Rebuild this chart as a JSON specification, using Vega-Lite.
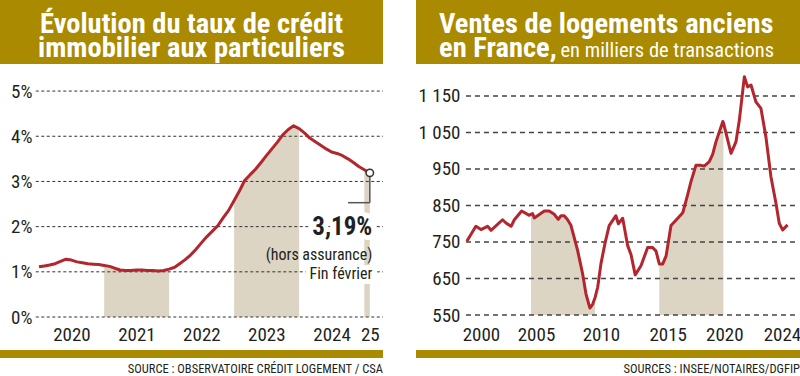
{
  "$schema": "https://vega.github.io/schema/vega-lite/v6.json",
  "padding": 0,
  "background": "white",
  "spacing": 9,
  "config": {
    "view": {"stroke": null},
    "font": "'Roboto Condensed', 'Liberation Sans', sans-serif",
    "axis": {"labelFont": "'Roboto Condensed', 'Liberation Sans', sans-serif", "labelColor": "#231F20", "labelFontSize": 19, "grid": false, "domain": false, "ticks": false, "tickSize": 0, "labelFlush": false, "labelOverlap": false},
    "title": {"font": "'Roboto Condensed', 'Liberation Sans', sans-serif", "fontWeight": "normal", "fontSize": 12.5, "color": "#231F20"},
    "text": {"font": "'Roboto Condensed', 'Liberation Sans', sans-serif"}
  },
  "datasets": {
    "credit": [
      {"d": "2020-01-01", "v": 1.11}, {"d": "2020-02-01", "v": 1.13}, {"d": "2020-03-01", "v": 1.15}, {"d": "2020-04-01", "v": 1.18},
      {"d": "2020-05-01", "v": 1.23}, {"d": "2020-06-01", "v": 1.28}, {"d": "2020-07-01", "v": 1.26}, {"d": "2020-08-01", "v": 1.22},
      {"d": "2020-09-01", "v": 1.20}, {"d": "2020-10-01", "v": 1.18}, {"d": "2020-11-01", "v": 1.17}, {"d": "2020-12-01", "v": 1.16},
      {"d": "2021-01-01", "v": 1.14, "p": "a"}, {"d": "2021-02-01", "v": 1.12, "p": "a"}, {"d": "2021-03-01", "v": 1.08, "p": "a"}, {"d": "2021-04-01", "v": 1.04, "p": "a"},
      {"d": "2021-05-01", "v": 1.03, "p": "a"}, {"d": "2021-06-01", "v": 1.03, "p": "a"}, {"d": "2021-07-01", "v": 1.04, "p": "a"}, {"d": "2021-08-01", "v": 1.04, "p": "a"},
      {"d": "2021-09-01", "v": 1.03, "p": "a"}, {"d": "2021-10-01", "v": 1.03, "p": "a"}, {"d": "2021-11-01", "v": 1.02, "p": "a"}, {"d": "2021-12-01", "v": 1.03, "p": "a"},
      {"d": "2022-01-01", "v": 1.06, "p": "a"}, {"d": "2022-02-01", "v": 1.10}, {"d": "2022-03-01", "v": 1.18}, {"d": "2022-04-01", "v": 1.27},
      {"d": "2022-05-01", "v": 1.37}, {"d": "2022-06-01", "v": 1.50}, {"d": "2022-07-01", "v": 1.64}, {"d": "2022-08-01", "v": 1.78},
      {"d": "2022-09-01", "v": 1.90}, {"d": "2022-10-01", "v": 2.02}, {"d": "2022-11-01", "v": 2.20}, {"d": "2022-12-01", "v": 2.36},
      {"d": "2023-01-01", "v": 2.58, "p": "b"}, {"d": "2023-02-01", "v": 2.80, "p": "b"}, {"d": "2023-03-01", "v": 3.02, "p": "b"}, {"d": "2023-04-01", "v": 3.15, "p": "b"},
      {"d": "2023-05-01", "v": 3.27, "p": "b"}, {"d": "2023-06-01", "v": 3.42, "p": "b"}, {"d": "2023-07-01", "v": 3.57, "p": "b"}, {"d": "2023-08-01", "v": 3.72, "p": "b"},
      {"d": "2023-09-01", "v": 3.87, "p": "b"}, {"d": "2023-10-01", "v": 4.03, "p": "b"}, {"d": "2023-11-01", "v": 4.15, "p": "b"}, {"d": "2023-12-01", "v": 4.23, "p": "b"},
      {"d": "2024-01-01", "v": 4.17, "p": "b"}, {"d": "2024-02-01", "v": 4.07}, {"d": "2024-03-01", "v": 3.96}, {"d": "2024-04-01", "v": 3.88},
      {"d": "2024-05-01", "v": 3.80}, {"d": "2024-06-01", "v": 3.72}, {"d": "2024-07-01", "v": 3.65}, {"d": "2024-08-01", "v": 3.62},
      {"d": "2024-09-01", "v": 3.57}, {"d": "2024-10-01", "v": 3.50}, {"d": "2024-11-01", "v": 3.42}, {"d": "2024-12-01", "v": 3.33},
      {"d": "2025-01-01", "v": 3.26, "p": "c"}, {"d": "2025-02-01", "v": 3.19, "p": "c"}
    ],
    "ventes": [
      {"d": "2000-01-01", "v": 752}, {"d": "2000-09-15", "v": 793}, {"d": "2001-02-08", "v": 784}, {"d": "2001-08-15", "v": 793},
      {"d": "2001-11-20", "v": 782}, {"d": "2002-10-15", "v": 811}, {"d": "2003-01-20", "v": 802}, {"d": "2003-06-15", "v": 793},
      {"d": "2003-09-15", "v": 811}, {"d": "2004-04-10", "v": 835}, {"d": "2004-11-15", "v": 823},
      {"d": "2005-01-01", "v": 826, "p": "a"}, {"d": "2005-02-15", "v": 828, "p": "a"}, {"d": "2005-04-05", "v": 816, "p": "a"},
      {"d": "2006-01-15", "v": 835, "p": "a"}, {"d": "2006-06-05", "v": 835, "p": "a"}, {"d": "2006-10-25", "v": 826, "p": "a"},
      {"d": "2007-02-15", "v": 812, "p": "a"}, {"d": "2007-05-05", "v": 822, "p": "a"}, {"d": "2007-08-05", "v": 822, "p": "a"},
      {"d": "2007-11-10", "v": 811, "p": "a"}, {"d": "2008-02-15", "v": 795, "p": "a"}, {"d": "2008-08-20", "v": 727, "p": "a"},
      {"d": "2009-01-10", "v": 663, "p": "a"}, {"d": "2009-04-15", "v": 608, "p": "a"}, {"d": "2009-08-05", "v": 569, "p": "a"},
      {"d": "2009-10-25", "v": 580, "p": "a"}, {"d": "2010-01-01", "v": 598, "p": "a"},
      {"d": "2010-03-15", "v": 626}, {"d": "2010-06-15", "v": 690}, {"d": "2010-10-10", "v": 747}, {"d": "2011-02-05", "v": 795},
      {"d": "2011-08-15", "v": 822}, {"d": "2011-10-25", "v": 800}, {"d": "2012-02-25", "v": 815}, {"d": "2012-07-15", "v": 740},
      {"d": "2012-10-20", "v": 715}, {"d": "2013-02-15", "v": 660}, {"d": "2013-07-30", "v": 685}, {"d": "2014-02-05", "v": 735},
      {"d": "2014-06-25", "v": 735}, {"d": "2014-10-01", "v": 725},
      {"d": "2015-01-01", "v": 690, "p": "b"}, {"d": "2015-04-10", "v": 690, "p": "b"}, {"d": "2015-07-15", "v": 712, "p": "b"},
      {"d": "2015-12-01", "v": 795, "p": "b"}, {"d": "2016-06-10", "v": 815, "p": "b"}, {"d": "2016-10-30", "v": 830, "p": "b"},
      {"d": "2017-03-20", "v": 880, "p": "b"}, {"d": "2017-06-20", "v": 915, "p": "b"}, {"d": "2017-11-10", "v": 960, "p": "b"},
      {"d": "2018-04-01", "v": 960, "p": "b"}, {"d": "2018-07-05", "v": 958, "p": "b"}, {"d": "2018-11-25", "v": 970, "p": "b"},
      {"d": "2019-03-01", "v": 990, "p": "b"}, {"d": "2019-06-05", "v": 1025, "p": "b"}, {"d": "2019-12-15", "v": 1080, "p": "b"},
      {"d": "2020-01-01", "v": 1077, "p": "b"},
      {"d": "2020-08-05", "v": 993}, {"d": "2020-12-25", "v": 1025}, {"d": "2021-03-30", "v": 1084}, {"d": "2021-08-20", "v": 1203},
      {"d": "2021-11-20", "v": 1175}, {"d": "2022-02-25", "v": 1180}, {"d": "2022-07-15", "v": 1134}, {"d": "2022-12-05", "v": 1116},
      {"d": "2023-04-25", "v": 1038}, {"d": "2023-09-15", "v": 929}, {"d": "2024-02-05", "v": 856}, {"d": "2024-05-10", "v": 801},
      {"d": "2024-08-15", "v": 783}, {"d": "2025-01-01", "v": 797}
    ]
  },
  "vconcat": [
    {
      "spacing": 33,
      "hconcat": [
        {
          "width": 383, "height": 64,
          "view": {"fill": "#A98A00", "stroke": null},
          "data": {"values": [{"t": "Évolution du taux de crédit", "l": "1"}, {"t": "immobilier aux particuliers", "l": "2"}]},
          "mark": {"type": "text", "fontSize": 28.5, "fontWeight": "bold", "color": "white", "align": "center", "baseline": "alphabetic"},
          "encoding": {
            "y": {"field": "l", "type": "ordinal", "scale": {"type": "point", "range": [33, 57], "padding": 0}, "axis": null},
            "text": {"field": "t"}
          }
        },
        {
          "width": 384, "height": 64,
          "view": {"fill": "#A98A00", "stroke": null},
          "layer": [
            {
              "data": {"values": [{"t": "Ventes de logements anciens", "l": "1"}, {"t": "en France,", "l": "2"}]},
              "mark": {"type": "text", "fontSize": 28.5, "fontWeight": "bold", "color": "white", "align": "left", "baseline": "alphabetic", "dx": -169},
              "encoding": {
                "y": {"field": "l", "type": "ordinal", "scale": {"type": "point", "range": [33, 57], "padding": 0}, "axis": null},
                "text": {"field": "t"}
              }
            },
            {
              "data": {"values": [{"t": "en milliers de transactions", "l": "2"}]},
              "mark": {"type": "text", "fontSize": 20.5, "color": "white", "align": "right", "baseline": "alphabetic", "dx": 166},
              "encoding": {
                "y": {"field": "l", "type": "ordinal", "axis": null},
                "text": {"field": "t"}
              }
            }
          ]
        }
      ]
    },
    {
      "spacing": 4,
      "vconcat": [
        {
          "spacing": 33,
          "hconcat": [
            {
              "width": 383, "height": 244,
              "layer": [
                {
                  "data": {"name": "credit"},
                  "transform": [{"filter": "isValid(datum.p)"}],
                  "mark": {"type": "area", "color": "#DDD5C3"},
                  "encoding": {
                    "x": {"field": "d", "type": "temporal", "title": null,
                      "scale": {"domain": [{"year": 2019, "month": 5, "date": 27, "utc": true}, {"year": 2025, "month": 4, "date": 16, "utc": true}]},
                      "axis": {
                        "values": [
                          {"year": 2020, "month": 7, "date": 1, "utc": true}, {"year": 2021, "month": 7, "date": 1, "utc": true},
                          {"year": 2022, "month": 7, "date": 1, "utc": true}, {"year": 2023, "month": 7, "date": 1, "utc": true},
                          {"year": 2024, "month": 7, "date": 1, "utc": true}, {"year": 2025, "month": 2, "date": 1, "utc": true}
                        ],
                        "labelExpr": "utcyear(datum.value) == 2025 ? '25' : utcFormat(datum.value, '%Y')",
                        "labelPadding": 8
                      }
                    },
                    "y": {"field": "v", "type": "quantitative", "title": null, "stack": null,
                      "scale": {"domain": [0, 5.4], "nice": false},
                      "axis": {"values": [0, 1, 2, 3, 4, 5], "labelExpr": "datum.value + '%'", "labelPadding": 4, "offset": -36}
                    },
                    "detail": {"field": "p"}
                  }
                },
                {
                  "data": {"values": [{"g": 0}, {"g": 1}, {"g": 2}, {"g": 3}, {"g": 4}, {"g": 5}]},
                  "mark": {"type": "rule", "color": "#333333", "strokeDash": [3, 2.5], "strokeWidth": 1},
                  "encoding": {
                    "y": {"field": "g", "type": "quantitative", "title": null},
                    "x": {"datum": {"year": 2019, "month": 12, "date": 14, "utc": true}},
                    "x2": {"datum": {"year": 2025, "month": 4, "date": 16, "utc": true}}
                  }
                },
                {
                  "data": {"name": "credit"},
                  "mark": {"type": "line", "color": "#B3262E", "strokeWidth": 3, "strokeJoin": "round"},
                  "encoding": {
                    "x": {"field": "d", "type": "temporal", "title": null},
                    "y": {"field": "v", "type": "quantitative", "title": null}
                  }
                },
                {
                  "data": {"values": [{}]},
                  "mark": {"type": "rule", "color": "#555555", "strokeWidth": 1.5},
                  "encoding": {
                    "x": {"datum": {"year": 2025, "month": 2, "date": 1, "utc": true}},
                    "y": {"datum": 3.19},
                    "y2": {"datum": 2.53}
                  }
                },
                {
                  "data": {"values": [{}]},
                  "mark": {"type": "rule", "color": "#555555", "strokeWidth": 1.5},
                  "encoding": {
                    "x": {"datum": {"year": 2024, "month": 10, "date": 2, "utc": true}},
                    "x2": {"datum": {"year": 2025, "month": 2, "date": 1, "utc": true}},
                    "y": {"datum": 2.53}
                  }
                },
                {
                  "data": {"values": [{}]},
                  "mark": {"type": "point", "filled": true, "fill": "white", "stroke": "#333333", "strokeWidth": 1.5, "size": 55, "opacity": 1},
                  "encoding": {
                    "x": {"datum": {"year": 2025, "month": 2, "date": 1, "utc": true}},
                    "y": {"datum": 3.19}
                  }
                },
                {
                  "data": {"values": [{}]},
                  "mark": {"type": "text", "text": "3,19%", "fontSize": 25, "fontWeight": "bold", "align": "right", "baseline": "alphabetic", "dx": 2.5, "color": "white", "stroke": "white", "strokeWidth": 10, "strokeJoin": "round"},
                  "encoding": {"x": {"datum": {"year": 2025, "month": 2, "date": 1, "utc": true}}, "y": {"datum": 1.81}}
                },
                {
                  "data": {"values": [{}]},
                  "mark": {"type": "text", "text": "Fin février", "fontSize": 16, "align": "right", "baseline": "alphabetic", "dx": 2.5, "color": "white", "stroke": "white", "strokeWidth": 10, "strokeJoin": "round"},
                  "encoding": {"x": {"datum": {"year": 2025, "month": 2, "date": 1, "utc": true}}, "y": {"datum": 0.84}}
                },
                {
                  "data": {"values": [{}]},
                  "mark": {"type": "text", "text": "3,19%", "fontSize": 25, "fontWeight": "bold", "align": "right", "baseline": "alphabetic", "dx": 2.5, "color": "#231F20"},
                  "encoding": {"x": {"datum": {"year": 2025, "month": 2, "date": 1, "utc": true}}, "y": {"datum": 1.81}}
                },
                {
                  "data": {"values": [{}]},
                  "mark": {"type": "text", "text": "(hors assurance)", "fontSize": 16, "align": "right", "baseline": "alphabetic", "dx": 2.5, "color": "#231F20"},
                  "encoding": {"x": {"datum": {"year": 2025, "month": 2, "date": 1, "utc": true}}, "y": {"datum": 1.26}}
                },
                {
                  "data": {"values": [{}]},
                  "mark": {"type": "text", "text": "Fin février", "fontSize": 16, "align": "right", "baseline": "alphabetic", "dx": 2.5, "color": "#231F20"},
                  "encoding": {"x": {"datum": {"year": 2025, "month": 2, "date": 1, "utc": true}}, "y": {"datum": 0.84}}
                }
              ]
            },
            {
              "width": 384, "height": 242,
              "layer": [
                {
                  "data": {"name": "ventes"},
                  "transform": [{"filter": "isValid(datum.p)"}],
                  "mark": {"type": "area", "color": "#DDD5C3"},
                  "encoding": {
                    "x": {"field": "d", "type": "temporal", "title": null,
                      "scale": {"domain": [{"year": 1996, "month": 2, "date": 13, "utc": true}, {"year": 2026, "month": 1, "date": 18, "utc": true}]},
                      "axis": {
                        "values": [
                          {"year": 2001, "month": 2, "date": 8, "utc": true}, {"year": 2005, "month": 5, "date": 24, "utc": true},
                          {"year": 2010, "month": 6, "date": 17, "utc": true}, {"year": 2015, "month": 8, "date": 28, "utc": true},
                          {"year": 2020, "month": 1, "date": 26, "utc": true}, {"year": 2024, "month": 7, "date": 26, "utc": true}
                        ],
                        "labelExpr": "utcyear(datum.value) == 2001 ? '2000' : utcFormat(datum.value, '%Y')",
                        "labelPadding": 10
                      }
                    },
                    "y": {"field": "v", "type": "quantitative", "title": null, "stack": null,
                      "scale": {"domain": [550, 1213], "nice": false, "zero": false},
                      "axis": {"values": [550, 650, 750, 850, 950, 1050, 1150], "labelExpr": "replace(format(datum.value, ','), ',', ' ')", "labelPadding": 6, "offset": -49}
                    },
                    "detail": {"field": "p"}
                  }
                },
                {
                  "data": {"values": [{"g": 550}, {"g": 650}, {"g": 750}, {"g": 850}, {"g": 950}, {"g": 1050}, {"g": 1150}]},
                  "mark": {"type": "rule", "color": "#444444", "strokeDash": [5, 4], "strokeWidth": 1.4},
                  "encoding": {
                    "y": {"field": "g", "type": "quantitative", "title": null},
                    "x": {"datum": {"year": 1999, "month": 12, "date": 8, "utc": true}},
                    "x2": {"datum": {"year": 2025, "month": 10, "date": 25, "utc": true}}
                  }
                },
                {
                  "data": {"name": "ventes"},
                  "mark": {"type": "line", "color": "#B3262E", "strokeWidth": 3, "strokeJoin": "round"},
                  "encoding": {
                    "x": {"field": "d", "type": "temporal", "title": null},
                    "y": {"field": "v", "type": "quantitative", "title": null}
                  }
                }
              ]
            }
          ]
        },
        {
          "spacing": 33,
          "hconcat": [
            {
              "width": 383, "height": 8,
              "view": {"fill": "#A98A00", "stroke": null},
              "data": {"values": [{}]},
              "mark": {"type": "text", "text": " "},
              "encoding": {},
              "title": {"text": "SOURCE : OBSERVATOIRE CRÉDIT LOGEMENT / CSA", "orient": "bottom", "anchor": "end", "frame": "group", "offset": 4}
            },
            {
              "width": 384, "height": 8,
              "view": {"fill": "#A98A00", "stroke": null},
              "data": {"values": [{}]},
              "mark": {"type": "text", "text": " "},
              "encoding": {},
              "title": {"text": "SOURCES : INSEE/NOTAIRES/DGFIP", "orient": "bottom", "anchor": "end", "frame": "group", "offset": 4}
            }
          ]
        }
      ]
    }
  ]
}
